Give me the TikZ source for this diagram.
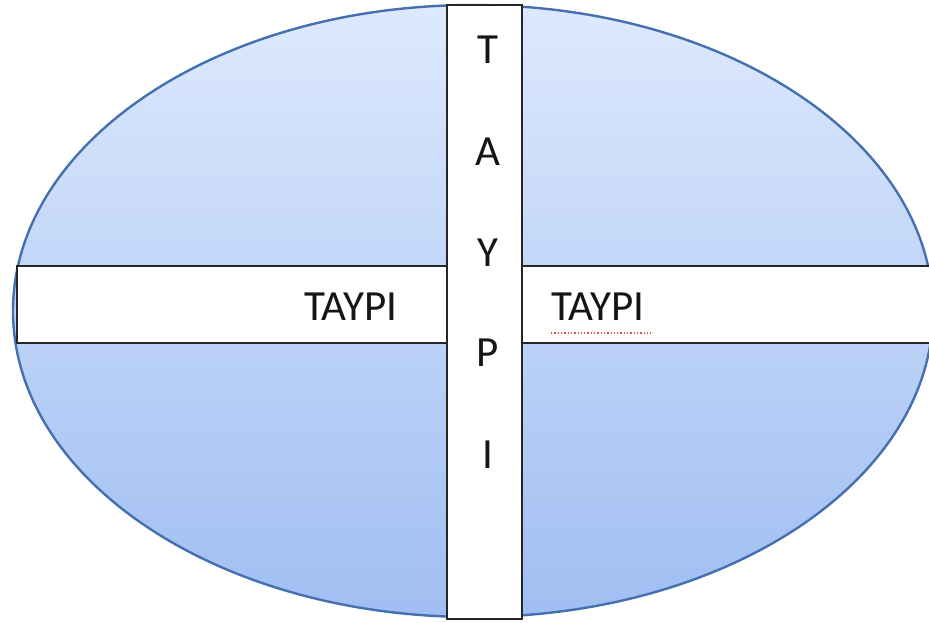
\documentclass[tikz,border=0pt]{standalone}
\usepackage{fontspec}
\setmainfont{Carlito}
\definecolor{ellTop}{HTML}{DDE9FD}
\definecolor{ellBot}{HTML}{A0BEF2}
\definecolor{ellLine}{HTML}{4470B0}
\definecolor{txt}{HTML}{151515}
\definecolor{spell}{HTML}{E05050}
\begin{document}
\begin{tikzpicture}[x=1pt,y=-1pt,
  band/.style={draw=black!85, line width=1.4pt, fill=white},
  lbl/.style={text=txt, font=\fontsize{43}{50}\selectfont, inner sep=0pt, anchor=base}]
\useasboundingbox (0,0) rectangle (929,622);
\clip (0,0) rectangle (929,622);
\path[draw=ellLine, line width=2.4pt, top color=ellTop, bottom color=ellBot]
  (473,311) ellipse [x radius=460, y radius=306];
\path[band] (17,266) rectangle (447,343);
\path[band] (522,266) rectangle (945,343);
\node[band, minimum width=75pt, minimum height=614pt, inner sep=0pt] (vbar) at (484.5,312) {};
\node[lbl] (l) at (351,320) {TAYPI};
\node[lbl] (r) at (598,320) {TAYPI};
\draw[spell, dotted, line width=1.3pt] (r.base west) ++(0,13) -- ++(102,0);
\node[lbl] (t1) at (488,63) {T};
\node[lbl] (t2) at (488,165) {A};
\node[lbl] (t3) at (488,266) {Y};
\node[lbl] (t4) at (488,366) {P};
\node[lbl] (t5) at (488,468) {I};
\end{tikzpicture}
\end{document}
